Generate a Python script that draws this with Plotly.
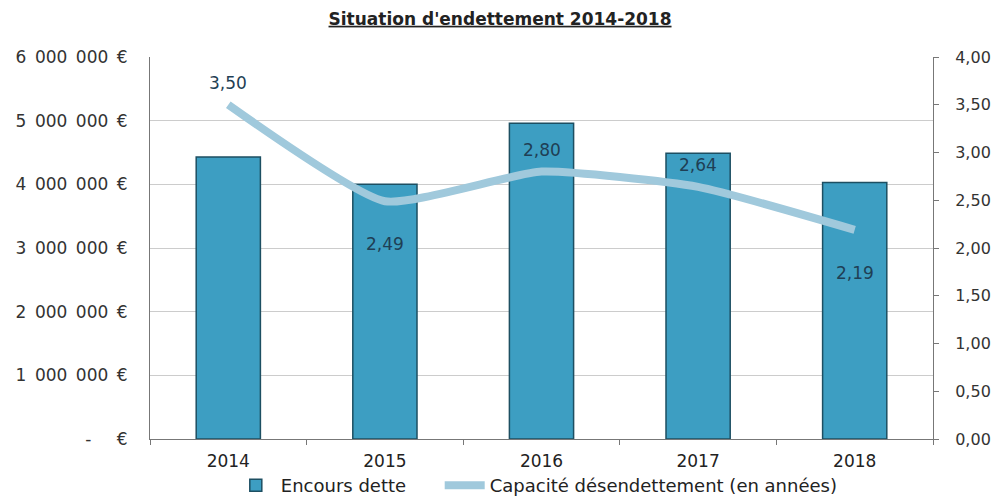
import plotly.graph_objects as go

years = ["2014", "2015", "2016", "2017", "2018"]
encours = [4430000, 4000000, 4960000, 4490000, 4030000]
capacite = [3.50, 2.49, 2.80, 2.64, 2.19]
label_pos = ["above", "below", "above", "above", "below"]

left_ticks = [0, 1000000, 2000000, 3000000, 4000000, 5000000, 6000000]
left_text = ["-   €", "1 000 000 €", "2 000 000 €", "3 000 000 €", "4 000 000 €", "5 000 000 €", "6 000 000 €"]
right_ticks = [0, 0.5, 1.0, 1.5, 2.0, 2.5, 3.0, 3.5, 4.0]

FONT = "DejaVu Sans"
SP = "\u2002"

fig = go.Figure()
fig.add_trace(go.Bar(
    x=years, y=encours, name="Encours dette" + "\u00a0" * 5,
    marker=dict(color="#3d9ec2", line=dict(color="#1d4f62", width=1.5)),
    width=0.41,
))
fig.add_trace(go.Scatter(
    x=years, y=capacite, name="Capacité désendettement (en années)",
    yaxis="y2", mode="lines",
    line=dict(color="#a0c9dc", width=8, shape="spline", smoothing=0.5),
))

for i, (v, pos) in enumerate(zip(capacite, label_pos)):
    fig.add_annotation(
        x=i, y=v, xref="x", yref="y2",
        text=f"{v:.2f}".replace(".", ","),
        showarrow=False,
        yshift=22 if pos == "above" else -43,
        font=dict(family=FONT, size=17, color="#1f3f55"),
    )

fig.update_layout(
    width=992, height=490,
    paper_bgcolor="white", plot_bgcolor="white",
    margin=dict(l=142, r=67, t=49, b=59, autoexpand=False),
    title=dict(text="<b><u>Situation d'endettement 2014-2018</u></b>", x=0.496, xanchor="center",
               y=0.978, yanchor="middle",
               font=dict(family=FONT, size=17, color="#222222")),
    font=dict(family=FONT, size=17, color="#333333"),
    separators=", ",
    showlegend=True,
    legend=dict(orientation="h", x=0.494, xanchor="center", y=-0.122, yanchor="middle",
                font=dict(family=FONT, size=18, color="#222222"), bgcolor="rgba(0,0,0,0)",
                itemwidth=40, tracegroupgap=0),
    xaxis=dict(
        type="category", range=[-0.5, len(years) - 0.5], automargin=False,
        showline=True, linecolor="#777777", linewidth=1,
        ticks="outside", tickson="boundaries", ticklen=5, tickcolor="#777777",
        ticklabelstandoff=7,
        tickfont=dict(family=FONT, size=17, color="#222222"),
        showgrid=False,
    ),
    yaxis=dict(
        range=[0, 6000000], tickvals=left_ticks, automargin=False,
        ticktext=[t.replace(" ", SP) for t in left_text],
        showline=True, linecolor="#777777", linewidth=1,
        showgrid=True, gridcolor="#cccccc", gridwidth=1,
        tickfont=dict(family=FONT, size=17, color="#333333"),
        ticks="", zeroline=False, ticklabelstandoff=18,
    ),
    yaxis2=dict(
        range=[0, 4], tickvals=right_ticks, tickformat=".2f", automargin=False,
        overlaying="y", side="right",
        showline=True, linecolor="#777777", linewidth=1,
        ticks="outside", ticklen=5, tickcolor="#777777",
        showgrid=False, zeroline=False, ticklabelstandoff=13,
        tickfont=dict(family=FONT, size=16, color="#333333"),
    ),
    bargap=0.59,
)

fig.write_html("out.html")
